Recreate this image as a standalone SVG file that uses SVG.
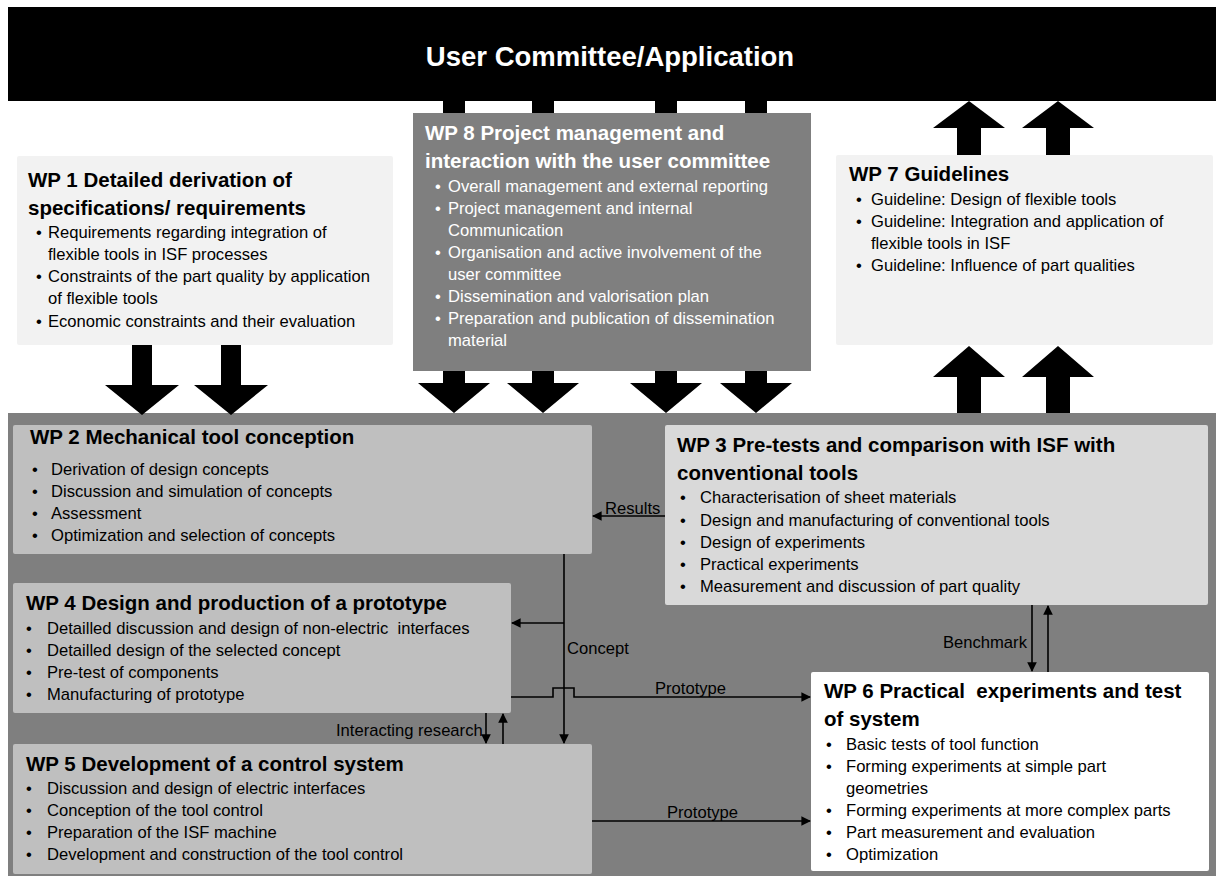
<svg xmlns="http://www.w3.org/2000/svg" width="1221" height="880" viewBox="0 0 1221 880">
<defs>
<style>
text{font-family:"Liberation Sans",Arial,sans-serif;font-size:16.6px;fill:#000}
.t{font-weight:bold;font-size:20.5px}
.w{fill:#fff}
.b{text-anchor:middle}
.big{fill:#000}
.c{fill:none;stroke:#000;stroke-width:1.6}
</style>
<marker id="ah" viewBox="0 0 10 10" refX="9" refY="5" markerWidth="6" markerHeight="6" orient="auto" markerUnits="strokeWidth">
<path d="M0,0 L10,5 L0,10 z" fill="#000"/>
</marker>
</defs>
<rect x="0" y="0" width="1221" height="880" fill="#fff"/>
<g id="panel"><rect x="8" y="413" width="1208" height="463" fill="#7f7f7f"/></g>
<g id="user-committee">
<rect x="8" y="7" width="1208" height="94" fill="#000"/>
<text x="610" y="66" class="t w" style="font-size:27.5px;text-anchor:middle">User Committee/Application</text>
</g>
<g id="block-arrows" class="big">
<polygon points="132,345 152,345 152,385 179,385 142,415 105,385 132,385"/>
<polygon points="221,345 241,345 241,385 268,385 231,415 194,385 221,385"/>
<rect x="443" y="101" width="22" height="12"/>
<rect x="532" y="101" width="22" height="12"/>
<rect x="655" y="101" width="22" height="12"/>
<rect x="745" y="101" width="22" height="12"/>
<polygon points="443,371 465,371 465,383 490,383 454,413 418,383 443,383"/>
<polygon points="532,371 554,371 554,383 579,383 543,413 507,383 532,383"/>
<polygon points="655,371 677,371 677,383 702,383 666,413 630,383 655,383"/>
<polygon points="745,371 767,371 767,383 792,383 756,413 720,383 745,383"/>
<polygon points="969,101 1005,128 981,128 981,155 957,155 957,128 933,128"/>
<polygon points="1058,101 1094,128 1070,128 1070,155 1046,155 1046,128 1022,128"/>
<polygon points="969,346 1005,377 981,377 981,413 957,413 957,377 933,377"/>
<polygon points="1058,346 1094,377 1070,377 1070,413 1046,413 1046,377 1022,377"/>
</g>
<g id="wp1">
<rect x="17" y="156" width="376" height="189" rx="2" fill="#f2f2f2"/>
<text x="28" y="187" class="t">WP 1 Detailed derivation of</text>
<text x="28" y="215" class="t">specifications/ requirements</text>
<text x="39" y="238" class="b">•</text><text x="48" y="238">Requirements regarding integration of</text>
<text x="48" y="260">flexible tools in ISF processes</text>
<text x="39" y="282" class="b">•</text><text x="48" y="282">Constraints of the part quality by application</text>
<text x="48" y="304">of flexible tools</text>
<text x="39" y="327" class="b">•</text><text x="48" y="327">Economic constraints and their evaluation</text>
</g>
<g id="wp8">
<rect x="413" y="113" width="398" height="258" fill="#7f7f7f"/>
<text x="425" y="140" class="t w">WP 8 Project management and</text>
<text x="425" y="168" class="t w">interaction with the user committee</text>
<text x="438" y="192" class="b w">•</text><text x="448" y="192" class="w">Overall management and external reporting</text>
<text x="438" y="214" class="b w">•</text><text x="448" y="214" class="w">Project management and internal</text>
<text x="448" y="236" class="w">Communication</text>
<text x="438" y="258" class="b w">•</text><text x="448" y="258" class="w">Organisation and active involvement of the</text>
<text x="448" y="280" class="w">user committee</text>
<text x="438" y="302" class="b w">•</text><text x="448" y="302" class="w">Dissemination and valorisation plan</text>
<text x="438" y="324" class="b w">•</text><text x="448" y="324" class="w">Preparation and publication of dissemination</text>
<text x="448" y="346" class="w">material</text>
</g>
<g id="wp7">
<rect x="836" y="155" width="377" height="190" rx="2" fill="#f2f2f2"/>
<text x="849" y="181" class="t">WP 7 Guidelines</text>
<text x="859" y="205" class="b">•</text><text x="871" y="205">Guideline: Design of flexible tools</text>
<text x="859" y="227" class="b">•</text><text x="871" y="227">Guideline: Integration and application of</text>
<text x="871" y="249">flexible tools in ISF</text>
<text x="859" y="271" class="b">•</text><text x="871" y="271">Guideline: Influence of part qualities</text>
</g>
<g id="wp2">
<rect x="13" y="425" width="579" height="129" rx="2" fill="#bfbfbf"/>
<text x="30" y="444" class="t">WP 2 Mechanical tool conception</text>
<text x="35" y="475" class="b">•</text><text x="51" y="475">Derivation of design concepts</text>
<text x="35" y="497" class="b">•</text><text x="51" y="497">Discussion and simulation of concepts</text>
<text x="35" y="519" class="b">•</text><text x="51" y="519">Assessment</text>
<text x="35" y="541" class="b">•</text><text x="51" y="541">Optimization and selection of concepts</text>
</g>
<g id="wp3">
<rect x="665" y="425" width="543" height="180" rx="2" fill="#d9d9d9"/>
<text x="677" y="452" class="t">WP 3 Pre-tests and comparison with ISF with</text>
<text x="677" y="480" class="t">conventional tools</text>
<text x="683" y="503" class="b">•</text><text x="700" y="503">Characterisation of sheet materials</text>
<text x="683" y="526" class="b">•</text><text x="700" y="526">Design and manufacturing of conventional tools</text>
<text x="683" y="548" class="b">•</text><text x="700" y="548">Design of experiments</text>
<text x="683" y="570" class="b">•</text><text x="700" y="570">Practical experiments</text>
<text x="683" y="592" class="b">•</text><text x="700" y="592">Measurement and discussion of part quality</text>
</g>
<g id="wp4">
<rect x="13" y="583" width="498" height="130" rx="2" fill="#bfbfbf"/>
<text x="26" y="610" class="t">WP 4 Design and production of a prototype</text>
<text x="29" y="634" class="b">•</text><text x="47" y="634">Detailled discussion and design of non-electric&#160; interfaces</text>
<text x="29" y="656" class="b">•</text><text x="47" y="656">Detailled design of the selected concept</text>
<text x="29" y="678" class="b">•</text><text x="47" y="678">Pre-test of components</text>
<text x="29" y="700" class="b">•</text><text x="47" y="700">Manufacturing of prototype</text>
</g>
<g id="wp5">
<rect x="13" y="744" width="579" height="130" rx="2" fill="#bfbfbf"/>
<text x="26" y="771" class="t">WP 5 Development of a control system</text>
<text x="29" y="794" class="b">•</text><text x="47" y="794">Discussion and design of electric interfaces</text>
<text x="29" y="816" class="b">•</text><text x="47" y="816">Conception of the tool control</text>
<text x="29" y="838" class="b">•</text><text x="47" y="838">Preparation of the ISF machine</text>
<text x="29" y="860" class="b">•</text><text x="47" y="860">Development and construction of the tool control</text>
</g>
<g id="wp6">
<rect x="811" y="672" width="398" height="199" rx="2" fill="#fff"/>
<text x="824" y="698" class="t">WP 6 Practical&#160; experiments and test</text>
<text x="824" y="726" class="t">of system</text>
<text x="829" y="750" class="b">•</text><text x="846" y="750">Basic tests of tool function</text>
<text x="829" y="772" class="b">•</text><text x="846" y="772">Forming experiments at simple part</text>
<text x="846" y="794">geometries</text>
<text x="829" y="816" class="b">•</text><text x="846" y="816">Forming experiments at more complex parts</text>
<text x="829" y="838" class="b">•</text><text x="846" y="838">Part measurement and evaluation</text>
<text x="829" y="860" class="b">•</text><text x="846" y="860">Optimization</text>
</g>
<g id="connectors">
<path class="c" d="M665,516 H593" marker-end="url(#ah)"/>
<path class="c" d="M564,554 V743" marker-end="url(#ah)"/>
<path class="c" d="M564,623 H512" marker-end="url(#ah)"/>
<path class="c" d="M511,697 H553 V688 H574 V697 H810" marker-end="url(#ah)"/>
<path class="c" d="M486,713 V743" marker-end="url(#ah)"/>
<path class="c" d="M503,744 V714" marker-end="url(#ah)"/>
<path class="c" d="M592,821 H810" marker-end="url(#ah)"/>
<path class="c" d="M1032,605 V671" marker-end="url(#ah)"/>
<path class="c" d="M1048,672 V606" marker-end="url(#ah)"/>
<text x="605" y="514">Results</text>
<text x="567" y="654">Concept</text>
<text x="655" y="694">Prototype</text>
<text x="336" y="736">Interacting research</text>
<text x="667" y="818">Prototype</text>
<text x="943" y="648">Benchmark</text>
</g>
</svg>
